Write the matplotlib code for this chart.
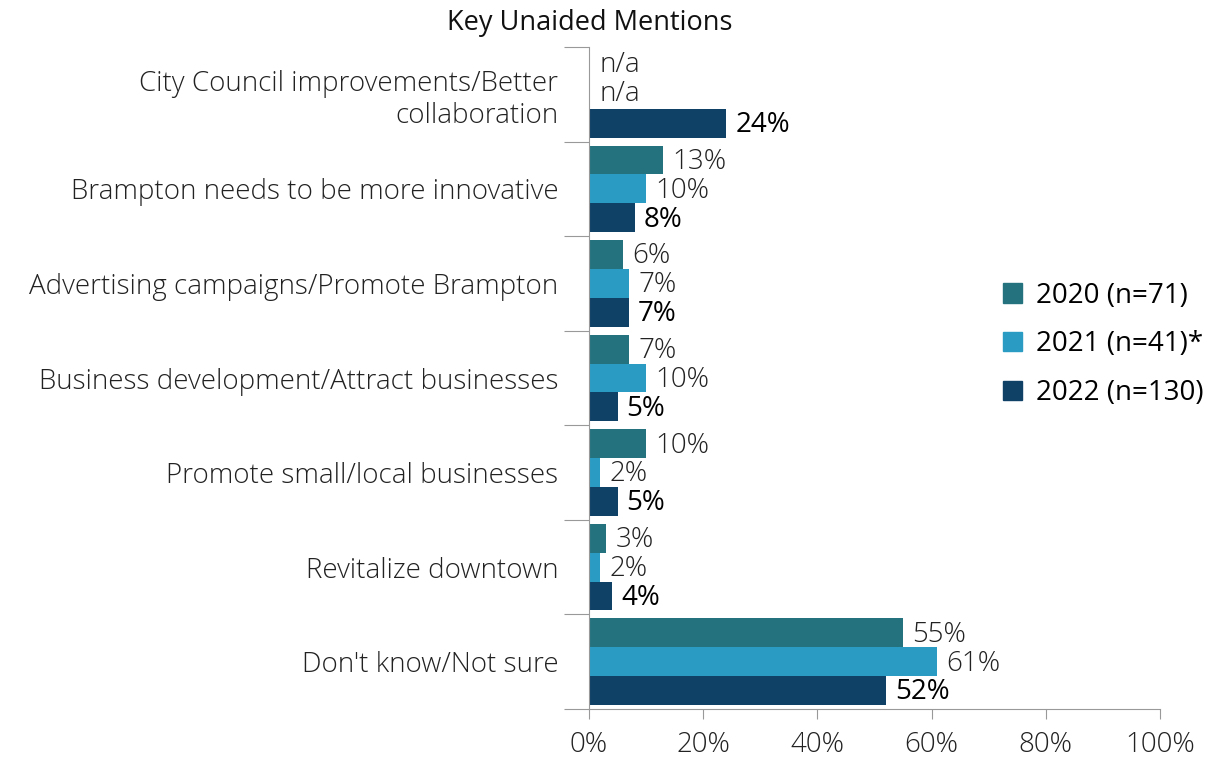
import numpy as np
import matplotlib.pyplot as plt
from matplotlib.patches import Patch

plt.rcParams['font.family'] = ['Open Sans', 'DejaVu Sans']

# data
categories = ['City Council improvements/Better\ncollaboration',
              'Brampton needs to be more innovative',
              'Advertising campaigns/Promote Brampton',
              'Business development/Attract businesses',
              'Promote small/local businesses',
              'Revitalize downtown',
              "Don't know/Not sure"]
v2020 = [np.nan, 13, 6, 7, 10, 3, 55]
v2021 = [np.nan, 10, 7, 10, 2, 2, 61]
v2022 = [24, 8, 7, 5, 5, 4, 52]
series_names = ['2020 (n=71)', '2021 (n=41)*', '2022 (n=130)']
colors = ['#25727F', '#2A9BC3', '#0F4066']
xticks = [0, 20, 40, 60, 80, 100]

fs = 20

fig = plt.figure(figsize=(12.23, 7.57), dpi=100)
ax = fig.add_axes([0.4816, 0.0634, 0.4669, 0.8745])

n = len(categories)
y = np.arange(n)
h = 0.305
series = [v2020, v2021, v2022]
for i, (vals, c) in enumerate(zip(series, colors)):
    pos = y + (i - 1) * h
    vals = np.array(vals, dtype=float)
    ax.barh(pos, np.nan_to_num(vals), height=h, color=c)
    for p, v in zip(pos, vals):
        if np.isnan(v):
            ax.text(1.8, p, 'n/a', va='center', ha='left', fontsize=fs,
                    color='#222222', fontweight='light')
        else:
            ax.text(v + 1.6, p + 0.02, f'{v:.0f}%', va='center', ha='left', fontsize=fs,
                    color='black' if i == 2 else '#222222',
                    fontweight='normal' if i == 2 else 'light')

ax.set_xlim(0, 100)
ax.set_ylim(n - 0.5, -0.5)
ax.set_xticks(xticks)
ax.set_xticklabels([f'{t}%' for t in xticks], fontsize=fs, color='#222222', fontweight='light')
ax.tick_params(axis='x', length=7, color='#999999', pad=9)

# category boundaries get tick marks, names sit at centres
ax.set_yticks(np.arange(n + 1) - 0.5)
ax.set_yticklabels([])
ax.tick_params(axis='y', which='major', length=18, color='#999999')
ax.set_yticks(y, minor=True)
ax.set_yticklabels(categories, minor=True, fontsize=fs, color='#222222', fontweight='light')
ax.tick_params(axis='y', which='minor', length=0, pad=22)
for lbl in ax.get_yticklabels(minor=True):
    lbl.set_horizontalalignment('right')
    lbl.set_multialignment('right')

for s in ['top', 'right']:
    ax.spines[s].set_visible(False)
for s in ['left', 'bottom']:
    ax.spines[s].set_color('#999999')

handles = [Patch(color=c) for c in colors]
fig.legend(handles, series_names, loc='center left', bbox_to_anchor=(0.82, 0.545),
           frameon=False, fontsize=fs, handlelength=0.7, handleheight=0.7,
           handletextpad=0.5, labelspacing=0.75, borderaxespad=0, borderpad=0)

fig.text(0.482, 0.969, 'Key Unaided Mentions', ha='center', va='center', fontsize=19.5,
         color='#111111')

plt.savefig('out.png', dpi=100)
